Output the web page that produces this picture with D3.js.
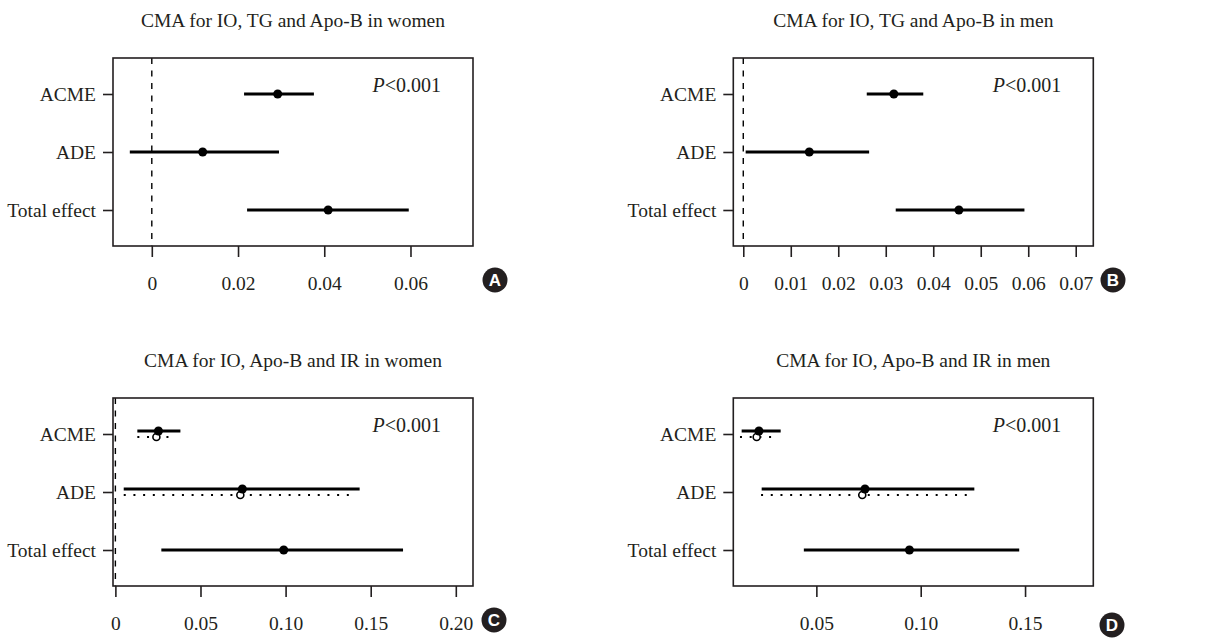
<!DOCTYPE html>
<html lang="en">
<head>
    <meta charset="UTF-8">
    <title>CMA forest plots</title>
    <script src="https://cdnjs.cloudflare.com/ajax/libs/d3/7.8.5/d3.min.js"></script>
    <style>
        body { margin: 0; background: #ffffff; }
        svg text { font-family: "Liberation Serif", "DejaVu Serif", serif; fill: #231f20; }
        .tag text { font-family: "Liberation Sans", Arial, sans-serif; fill: #ffffff; }
    </style>
</head>
<body>
    <div id="chart"></div>
    <script>
        const effects = ["ACME", "ADE", "Total effect"];

        // A: IO, TG and Apo-B in women
        const estA = [0.0292, 0.0118, 0.0409];
        const lowA = [0.0214, -0.0051, 0.0221];
        const highA = [0.0376, 0.0295, 0.0596];
        const ticksA = [0, 0.02, 0.04, 0.06];
        const tickLabelsA = ["0", "0.02", "0.04", "0.06"];

        // B: IO, TG and Apo-B in men
        const estB = [0.0317, 0.0139, 0.0454];
        const lowB = [0.0260, 0.0005, 0.0321];
        const highB = [0.0379, 0.0265, 0.0592];
        const ticksB = [0, 0.01, 0.02, 0.03, 0.04, 0.05, 0.06, 0.07];
        const tickLabelsB = ["0", "0.01", "0.02", "0.03", "0.04", "0.05", "0.06", "0.07"];

        // C: IO, Apo-B and IR in women (solid = treated, dotted = control)
        const estC = [0.0253, 0.0746, 0.0989];
        const lowC = [0.0129, 0.0049, 0.0270];
        const highC = [0.0382, 0.1435, 0.1690];
        const estC2 = [0.0241, 0.0734];
        const lowC2 = [0.0129, 0.0049];
        const highC2 = [0.0323, 0.1416];
        const ticksC = [0, 0.05, 0.10, 0.15, 0.20];
        const tickLabelsC = ["0", "0.05", "0.10", "0.15", "0.20"];

        // D: IO, Apo-B and IR in men
        const estD = [0.0225, 0.0733, 0.0946];
        const lowD = [0.0142, 0.0238, 0.0440];
        const highD = [0.0329, 0.1257, 0.1472];
        const estD2 = [0.0214, 0.0720];
        const lowD2 = [0.0134, 0.0235];
        const highD2 = [0.0302, 0.1232];
        const ticksD = [0.05, 0.10, 0.15];
        const tickLabelsD = ["0.05", "0.10", "0.15"];

        const svg = d3.select("#chart")
            .append("svg")
            .attr("width", 1215)
            .attr("height", 638);

        const boxW = 360, boxH = 188;
        const fs = 19.5;

        function drawPanel(p) {
            const g = svg.append("g")
                .attr("transform", `translate(${p.left},${p.top})`);

            const x = d3.scaleLinear().domain(p.domain).range([0, boxW]);
            const y = d3.scalePoint().domain(effects).range([36, 152]);

            // zero reference line
            if (p.domain[0] <= 0) {
                g.append("line")
                    .attr("x1", x(0)).attr("x2", x(0))
                    .attr("y1", 0).attr("y2", boxH)
                    .attr("stroke", "#000")
                    .attr("stroke-width", 1.4)
                    .attr("stroke-dasharray", "6 6.5");
            }

            const rows = effects.map((e, i) => ({ e, est: p.est[i], low: p.low[i], high: p.high[i] }));
            const off = p.est2 ? -3 : 0;
            const rowY = d => y(d.e) + (d.e === "Total effect" ? 0 : off);

            g.selectAll(".ci")
                .data(rows)
                .enter().append("line")
                .attr("class", "ci")
                .attr("x1", d => x(d.low))
                .attr("x2", d => x(d.high))
                .attr("y1", rowY)
                .attr("y2", rowY)
                .attr("stroke", "#000")
                .attr("stroke-width", 3);

            if (p.est2) {
                const rows2 = p.est2.map((v, i) => ({ e: effects[i], est: v, low: p.low2[i], high: p.high2[i] }));
                g.selectAll(".ci2")
                    .data(rows2)
                    .enter().append("line")
                    .attr("class", "ci2")
                    .attr("x1", d => x(d.low))
                    .attr("x2", d => x(d.high))
                    .attr("y1", d => y(d.e) + 3)
                    .attr("y2", d => y(d.e) + 3)
                    .attr("stroke", "#000")
                    .attr("stroke-width", 2)
                    .attr("stroke-dasharray", "2 7.7");
                g.selectAll(".pt2")
                    .data(rows2)
                    .enter().append("circle")
                    .attr("class", "pt2")
                    .attr("cx", d => x(d.est))
                    .attr("cy", d => y(d.e) + 3)
                    .attr("r", 3.5)
                    .attr("fill", "#fff")
                    .attr("stroke", "#000")
                    .attr("stroke-width", 1.6);
            }

            g.selectAll(".pt")
                .data(rows)
                .enter().append("circle")
                .attr("class", "pt")
                .attr("cx", d => x(d.est))
                .attr("cy", rowY)
                .attr("r", 4.5)
                .attr("fill", "#000");

            // box
            g.append("rect")
                .attr("width", boxW).attr("height", boxH)
                .attr("fill", "none")
                .attr("stroke", "#231f20")
                .attr("stroke-width", 1.6);

            const xAxis = g.append("g")
                .attr("transform", `translate(0,${boxH})`)
                .call(d3.axisBottom(x)
                    .tickValues(p.ticks)
                    .tickFormat((d, i) => p.tickLabels[i])
                    .tickSize(11)
                    .tickPadding(19));
            xAxis.select(".domain").remove();
            xAxis.selectAll("line").attr("stroke", "#231f20").attr("stroke-width", 1.6);
            xAxis.selectAll("text").attr("font-size", fs).attr("font-family", null).attr("fill", null);

            const yAxis = g.append("g")
                .call(d3.axisLeft(y).tickSize(10).tickPadding(7));
            yAxis.select(".domain").remove();
            yAxis.selectAll("line").attr("stroke", "#231f20").attr("stroke-width", 1.6);
            yAxis.selectAll("text").attr("font-size", fs).attr("font-family", null).attr("fill", null);

            g.append("text")
                .attr("x", boxW / 2)
                .attr("y", -31)
                .attr("text-anchor", "middle")
                .attr("font-size", fs)
                .text(p.title);

            const pText = g.append("text")
                .attr("x", boxW - 32)
                .attr("y", 34)
                .attr("text-anchor", "end")
                .attr("font-size", fs + 0.5);
            pText.append("tspan").attr("font-style", "italic").text("P");
            pText.append("tspan").text("<0.001");

            const tag = svg.append("g")
                .attr("class", "tag")
                .attr("transform", `translate(${p.tag[0]},${p.tag[1]})`);
            tag.append("circle").attr("r", 12.5).attr("fill", "#231f20");
            tag.append("text")
                .attr("text-anchor", "middle")
                .attr("dy", "0.36em")
                .attr("font-size", 17)
                .attr("font-weight", "bold")
                .text(p.letter);
        }

        drawPanel({
            left: 113, top: 58, domain: [-0.009, 0.0745],
            est: estA, low: lowA, high: highA,
            ticks: ticksA, tickLabels: tickLabelsA,
            title: "CMA for IO, TG and Apo-B in women",
            letter: "A", tag: [495, 280]
        });
        drawPanel({
            left: 733.3, top: 58, domain: [-0.0021, 0.0737],
            est: estB, low: lowB, high: highB,
            ticks: ticksB, tickLabels: tickLabelsB,
            title: "CMA for IO, TG and Apo-B in men",
            letter: "B", tag: [1113, 280]
        });
        drawPanel({
            left: 113, top: 398, domain: [-0.0014, 0.2101],
            est: estC, low: lowC, high: highC,
            est2: estC2, low2: lowC2, high2: highC2,
            ticks: ticksC, tickLabels: tickLabelsC,
            title: "CMA for IO, Apo-B and IR in women",
            letter: "C", tag: [494, 620]
        });
        drawPanel({
            left: 733.3, top: 398, domain: [0.0102, 0.1827],
            est: estD, low: lowD, high: highD,
            est2: estD2, low2: lowD2, high2: highD2,
            ticks: ticksD, tickLabels: tickLabelsD,
            title: "CMA for IO, Apo-B and IR in men",
            letter: "D", tag: [1112, 625]
        });
    </script>
</body>
</html>
